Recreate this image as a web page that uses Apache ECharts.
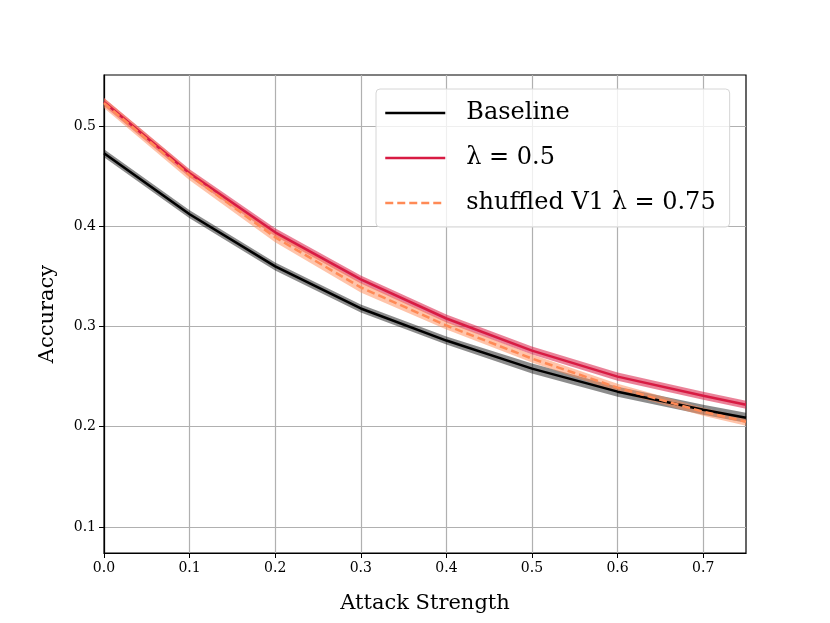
<!DOCTYPE html>
<html>
<head>
<meta charset="utf-8">
<script src="https://cdn.jsdelivr.net/npm/echarts@6/dist/echarts.min.js"></script>
<style>
html, body { margin: 0; padding: 0; background: #fff; }
#chart { width: 830px; height: 623px; }
</style>
</head>
<body>
<div id="chart"></div>
<script>
// attack strengths
var strengths = [0.0, 0.1, 0.2, 0.3, 0.4, 0.5, 0.6, 0.7, 0.75];
// mean accuracy per run
var baseline = [0.473, 0.412, 0.360, 0.318, 0.286, 0.258, 0.235, 0.217, 0.209];
var lambda05 = [0.524, 0.453, 0.394, 0.347, 0.308, 0.276, 0.250, 0.231, 0.222];
var shuffled = [0.523, 0.451, 0.389, 0.339, 0.301, 0.268, 0.239, 0.215, 0.205];
// half-width of the shaded band
var baselineStd = [0.004, 0.004, 0.004, 0.004, 0.004, 0.005, 0.005, 0.005, 0.005];
var lambda05Std = [0.004, 0.004, 0.004, 0.004, 0.004, 0.004, 0.004, 0.004, 0.004];
var shuffledStd = [0.005, 0.005, 0.005, 0.005, 0.004, 0.004, 0.004, 0.004, 0.004];
var yTicks = [0.1, 0.2, 0.3, 0.4, 0.5];
var xTicks = [0.0, 0.1, 0.2, 0.3, 0.4, 0.5, 0.6, 0.7];

var FONT = '"DejaVu Serif", "Liberation Serif", serif';

function pairs(vals) {
	return strengths.map(function(x, i) { return [x, vals[i]]; });
}

// shaded band mean +- std, drawn as one polygon through the grid's coords
function band(name, mean, std, color, opacity, z) {
	return {
		name: name,
		type: 'custom',
		silent: true,
		z: z,
		data: [[0, mean[0]]],
		renderItem: function(params, api) {
			var pts = [];
			for (var i = 0; i < strengths.length; i++) {
				pts.push(api.coord([strengths[i], mean[i] + std[i]]));
			}
			for (var j = strengths.length - 1; j >= 0; j--) {
				pts.push(api.coord([strengths[j], mean[j] - std[j]]));
			}
			return {
				type: 'polygon',
				shape: { points: pts },
				style: { fill: color, opacity: opacity }
			};
		}
	};
}

var chartObj = echarts.init(document.getElementById('chart'));
var series = [];
series.push(band('base_band', baseline, baselineStd, '#000000', 0.45, 2));
series.push(band('l05_band', lambda05, lambda05Std, '#d81b43', 0.55, 2));
series.push(band('shuf_band', shuffled, shuffledStd, '#ff8a56', 0.5, 2));
series.push({
	name: 'Baseline',
	type: 'line',
	data: pairs(baseline),
	symbol: 'none',
	color: '#000000',
	lineStyle: { color: '#000000', width: 2.5 },
	z: 5
});
series.push({
	name: 'λ = 0.5',
	type: 'line',
	data: pairs(lambda05),
	symbol: 'none',
	color: '#d81b43',
	lineStyle: { color: '#d81b43', width: 2.5 },
	z: 6
});
series.push({
	name: 'shuffled V1 λ = 0.75',
	type: 'line',
	data: pairs(shuffled),
	symbol: 'none',
	color: '#ff8a56',
	lineStyle: { color: '#ff8a56', width: 2.5, type: [8, 4] },
	z: 7
});

var option = {
	animation: false,
	backgroundColor: '#fff',
	textStyle: { fontFamily: FONT },
	grid: {
		left: 104, right: 84, top: 75, bottom: 70,
		show: true, borderColor: '#000', borderWidth: 1.2
	},
	legend: {
		data: ['Baseline', 'λ = 0.5', 'shuffled V1 λ = 0.75'],
		orient: 'vertical',
		left: 376,
		top: 89,
		itemWidth: 60,
		itemHeight: 14,
		itemGap: 21,
		padding: [12, 14, 12, 8],
		backgroundColor: 'rgba(255,255,255,0.8)',
		borderColor: '#d6d6d6',
		borderWidth: 1,
		borderRadius: 4,
		itemStyle: { opacity: 0 },
		lineStyle: { width: 2.5 },
		textStyle: { fontFamily: FONT, fontSize: 24, color: '#000', padding: [0, 0, 0, 16] }
	},
	xAxis: {
		type: 'value',
		min: 0,
		max: 0.75,
		name: 'Attack Strength',
		nameLocation: 'middle',
		nameGap: 40,
		nameTextStyle: { fontFamily: FONT, fontSize: 21, color: '#000' },
		axisLine: { show: true, onZero: false, lineStyle: { color: '#000', width: 1.2 } },
		axisTick: { show: true, customValues: xTicks, length: 5, lineStyle: { color: '#000' } },
		axisLabel: {
			customValues: xTicks,
			fontFamily: FONT, fontSize: 14, color: '#000', margin: 8,
			formatter: function(v) { return v.toFixed(1); }
		},
		splitLine: { show: true, lineStyle: { color: '#b0b0b0', width: 1.2 } }
	},
	yAxis: {
		type: 'value',
		min: 0.074,
		max: 0.551,
		name: 'Accuracy',
		nameLocation: 'middle',
		nameGap: 46,
		nameTextStyle: { fontFamily: FONT, fontSize: 21, color: '#000' },
		axisLine: { show: true, onZero: false, lineStyle: { color: '#000', width: 1.2 } },
		axisTick: { show: true, customValues: yTicks, length: 5, lineStyle: { color: '#000' } },
		axisLabel: {
			customValues: yTicks,
			fontFamily: FONT, fontSize: 14, color: '#000', margin: 8,
			formatter: function(v) { return v.toFixed(1); }
		},
		splitLine: { show: true, lineStyle: { color: '#b0b0b0', width: 1.2 } }
	},
	series: series
};
chartObj.setOption(option);
</script>
</body>
</html>
